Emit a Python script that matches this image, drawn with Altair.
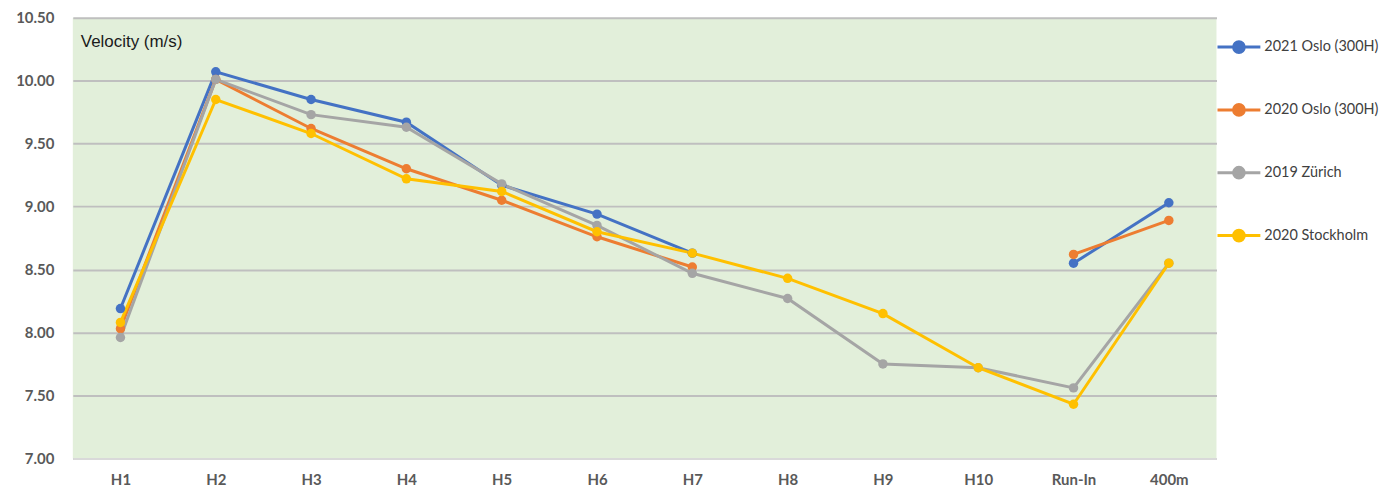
import altair as alt
import pandas as pd

categories = ["H1", "H2", "H3", "H4", "H5", "H6", "H7", "H8", "H9", "H10", "Run-In", "400m"]
series_names = ["2021 Oslo (300H)", "2020 Oslo (300H)", "2019 Zürich", "2020 Stockholm"]
oslo_2021 = [8.19, 10.07, 9.85, 9.67, 9.17, 8.94, 8.63, None, None, None, 8.55, 9.03]
oslo_2020 = [8.03, 10.01, 9.62, 9.30, 9.05, 8.76, 8.52, None, None, None, 8.62, 8.89]
zurich_2019 = [7.96, 10.01, 9.73, 9.63, 9.18, 8.85, 8.47, 8.27, 7.75, 7.72, 7.56, 8.55]
stockholm_2020 = [8.08, 9.85, 9.58, 9.22, 9.12, 8.80, 8.63, 8.43, 8.15, 7.72, 7.43, 8.55]
colors = ["#4472c4", "#ed7d31", "#a5a5a5", "#ffc000"]
y_ticks = [7.0, 7.5, 8.0, 8.5, 9.0, 9.5, 10.0, 10.5]

rows = []
for name, vals in zip(series_names, [oslo_2021, oslo_2020, zurich_2019, stockholm_2020]):
    seg = 0
    prev_none = False
    for cat, v in zip(categories, vals):
        if v is None:
            prev_none = True
            continue
        if prev_none:
            seg += 1
            prev_none = False
        rows.append({"split": cat, "velocity": v, "series": name, "seg": f"{name}-{seg}"})
df = pd.DataFrame(rows)

FONT = "Lato"

x_enc = alt.X("split:O", sort=categories, scale=alt.Scale(domain=categories, padding=0.5),
              axis=alt.Axis(title=None, labelAngle=0, ticks=False, domain=True, domainColor="#d9d9d9",
                            domainWidth=2,
                            labelFontWeight="bold", labelFontSize=15, labelColor="#595959",
                            labelPadding=14, labelFont=FONT))
y_enc = alt.Y("velocity:Q", scale=alt.Scale(domain=[7, 10.5], nice=False, zero=False),
              axis=alt.Axis(title=None, values=y_ticks, format=".2f", ticks=False, domain=False,
                            labelFontWeight="bold", labelFontSize=15, labelColor="#595959",
                            labelPadding=19, labelFont=FONT, gridColor="#bfbfbf", gridWidth=2))
color_enc = alt.Color("series:N", scale=alt.Scale(domain=series_names, range=colors),
                      legend=alt.Legend(title=None, orient="none", legendX=1157, legendY=17,
                                        symbolType="M-2,0H2M0.5,0A0.5,0.5 0 1,1 -0.5,0A0.5,0.5 0 1,1 0.5,0",
                                        symbolSize=462, symbolStrokeWidth=3, labelFontSize=14.5,
                                        labelFont=FONT, labelColor="#404040", labelOffset=13,
                                        labelLimit=200, rowPadding=39, padding=0))

base = alt.Chart(df)
lines = base.mark_line(strokeWidth=3).encode(x=x_enc, y=y_enc, color=color_enc, detail="seg:N")
points = base.mark_point(filled=True, size=90, opacity=1).encode(x=x_enc, y=y_enc, color=color_enc)
label = alt.Chart(pd.DataFrame({"t": ["Velocity (m/s)"]})).mark_text(
    align="left", baseline="middle", fontSize=17, font="Liberation Sans", color="#1a1a1a"
).encode(text="t:N", x=alt.value(8), y=alt.value(24))

chart = alt.layer(lines, points, label).properties(
    width=1147, height=442,
    background="white",
    autosize=alt.AutoSizeParams(type="none"),
    padding={"left": 65, "top": 9, "right": 170, "bottom": 32},
).configure_view(fill="#e2efda", stroke=None)

chart.save("out.html", embed_options={"renderer": "svg", "actions": False})
